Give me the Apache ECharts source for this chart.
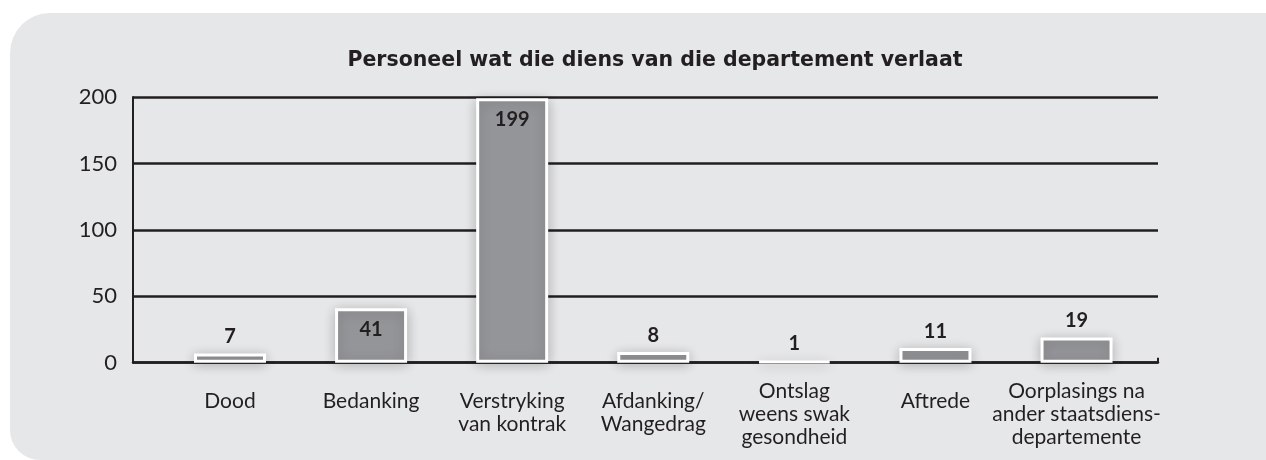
<!DOCTYPE html>
<html>
<head>
<meta charset="utf-8">
<script src="https://cdn.jsdelivr.net/npm/echarts@6/dist/echarts.min.js"></script>
<style>
html,body{margin:0;padding:0;background:#ffffff;}
#chart{width:1266px;height:460px;}
</style>
</head>
<body>
<div id="chart"></div>
<script>
const titleText = 'Personeel wat die diens van die departement verlaat';
const categories = ['Dood', 'Bedanking', 'Verstryking\nvan kontrak', 'Afdanking/\nWangedrag', 'Ontslag\nweens swak\ngesondheid', 'Aftrede', 'Oorplasings na\nander staatsdiens-\ndepartemente'];
const values = [7, 41, 199, 8, 1, 11, 19];
const insideLabels = [false, true, true, false, false, false, false];
const yTicks = [0, 50, 100, 150, 200];

const FONT = 'Lato';
const TITLE_FONT = '"DejaVu Sans"';
const TXT = '#231f20';

const chart = echarts.init(document.getElementById('chart'), null, {renderer: 'canvas'});

const catData = categories.map(c => {
  const lines = c.split('\n').length;
  return lines >= 3 ? {value: c, textStyle: {padding: [-10, 0, 0, 0]}} : c;
});

const barData = values.map((v, i) => ({
  value: v,
  label: insideLabels[i]
    ? {position: 'insideTop', distance: 11}
    : {position: 'top', distance: 7}
}));

chart.setOption({
  animation: false,
  backgroundColor: 'transparent',
  graphic: [{
    type: 'rect',
    z: -10,
    silent: true,
    shape: {x: 10, y: 13, width: 1256, height: 447, r: [40, 0, 0, 30]},
    style: {fill: '#e6e7e8'}
  }],
  title: {
    text: titleText,
    left: 650,
    top: 45,
    textAlign: 'center',
    textStyle: {fontFamily: TITLE_FONT, fontWeight: 'bold', fontSize: 20.5, color: TXT}
  },
  grid: [
    {left: 133, right: 108, top: 97, bottom: 97.3},
    {left: 159.45, right: 118.9, top: 97, bottom: 97.3}
  ],
  xAxis: [
    {
      gridIndex: 0, type: 'value', min: 0, max: 1, interval: 1,
      axisLine: {show: true, lineStyle: {color: TXT, width: 2.5}},
      axisTick: {show: true, inside: true, length: 5, lineStyle: {color: TXT, width: 2}},
      axisLabel: {show: false}, splitLine: {show: false}
    },
    {
      gridIndex: 1, type: 'category', data: catData,
      axisLine: {show: false}, axisTick: {show: false},
      axisLabel: {
        interval: 0, margin: 27, fontFamily: FONT, fontSize: 21, color: TXT,
        lineHeight: 23, verticalAlign: 'top'
      }
    }
  ],
  yAxis: [
    {
      gridIndex: 0, type: 'value', min: 0, max: 200, interval: 50,
      axisLine: {show: true, lineStyle: {color: TXT, width: 2}},
      axisTick: {show: false},
      axisLabel: {margin: 16, fontFamily: FONT, fontSize: 22, color: TXT,
        formatter: v => yTicks.includes(v) ? String(v) : ''},
      splitLine: {show: true, lineStyle: {color: TXT, width: 2.5}}
    },
    {
      gridIndex: 1, type: 'value', min: 0, max: 200, interval: 50, show: false
    }
  ],
  series: [{
    type: 'bar',
    xAxisIndex: 1, yAxisIndex: 1,
    data: barData,
    barWidth: 72,
    itemStyle: {
      color: '#939598', borderColor: '#ffffff', borderWidth: 3,
      shadowBlur: 12, shadowColor: 'rgba(0,0,0,0.22)', shadowOffsetX: 0, shadowOffsetY: 2
    },
    label: {
      show: true, fontFamily: FONT, fontWeight: 'bold', fontSize: 20, color: TXT
    },
    z: 5
  }]
});
</script>
</body>
</html>
